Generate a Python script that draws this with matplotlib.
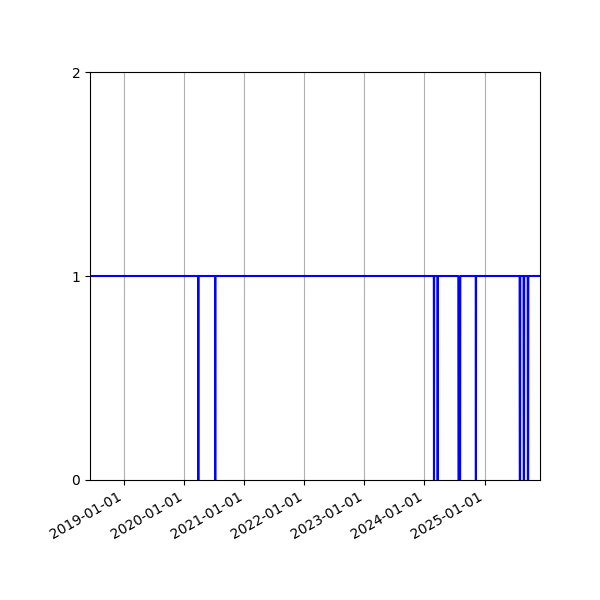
import matplotlib
matplotlib.use("Agg")
import matplotlib.pyplot as plt
import matplotlib.dates as mdates
import pandas as pd

# observed period
start_date = "2018-06-06"
end_date = "2025-12-04"

# periods where the status drops to 0 (first day, last day)
down_starts = ["2020-03-26", "2020-07-07", "2024-02-28", "2024-03-21",
               "2024-07-26", "2024-11-09", "2025-08-03", "2025-08-27",
               "2025-09-21"]
down_ends = ["2020-03-26", "2020-07-07", "2024-02-28", "2024-03-22",
             "2024-08-05", "2024-11-09", "2025-08-05", "2025-08-29",
             "2025-09-23"]

days = pd.date_range(start_date, end_date, freq="D")
status = pd.Series(1, index=days)
for s, e in zip(down_starts, down_ends):
    status.loc[s:e] = 0

fig, ax = plt.subplots(figsize=(6, 6), dpi=100)
ax.plot(status.index, status.values, color="blue")

ax.set_xlim(days[0], days[-1])
ax.set_ylim(0, 2)
ax.set_yticks([0, 1, 2])
ax.xaxis.set_major_locator(mdates.YearLocator())
ax.xaxis.set_major_formatter(mdates.DateFormatter("%Y-%m-%d"))
ax.grid(axis="x")
fig.autofmt_xdate()
fig.subplots_adjust(left=0.15, right=0.9, top=0.88, bottom=0.2)

fig.savefig("out.png", dpi=100)
